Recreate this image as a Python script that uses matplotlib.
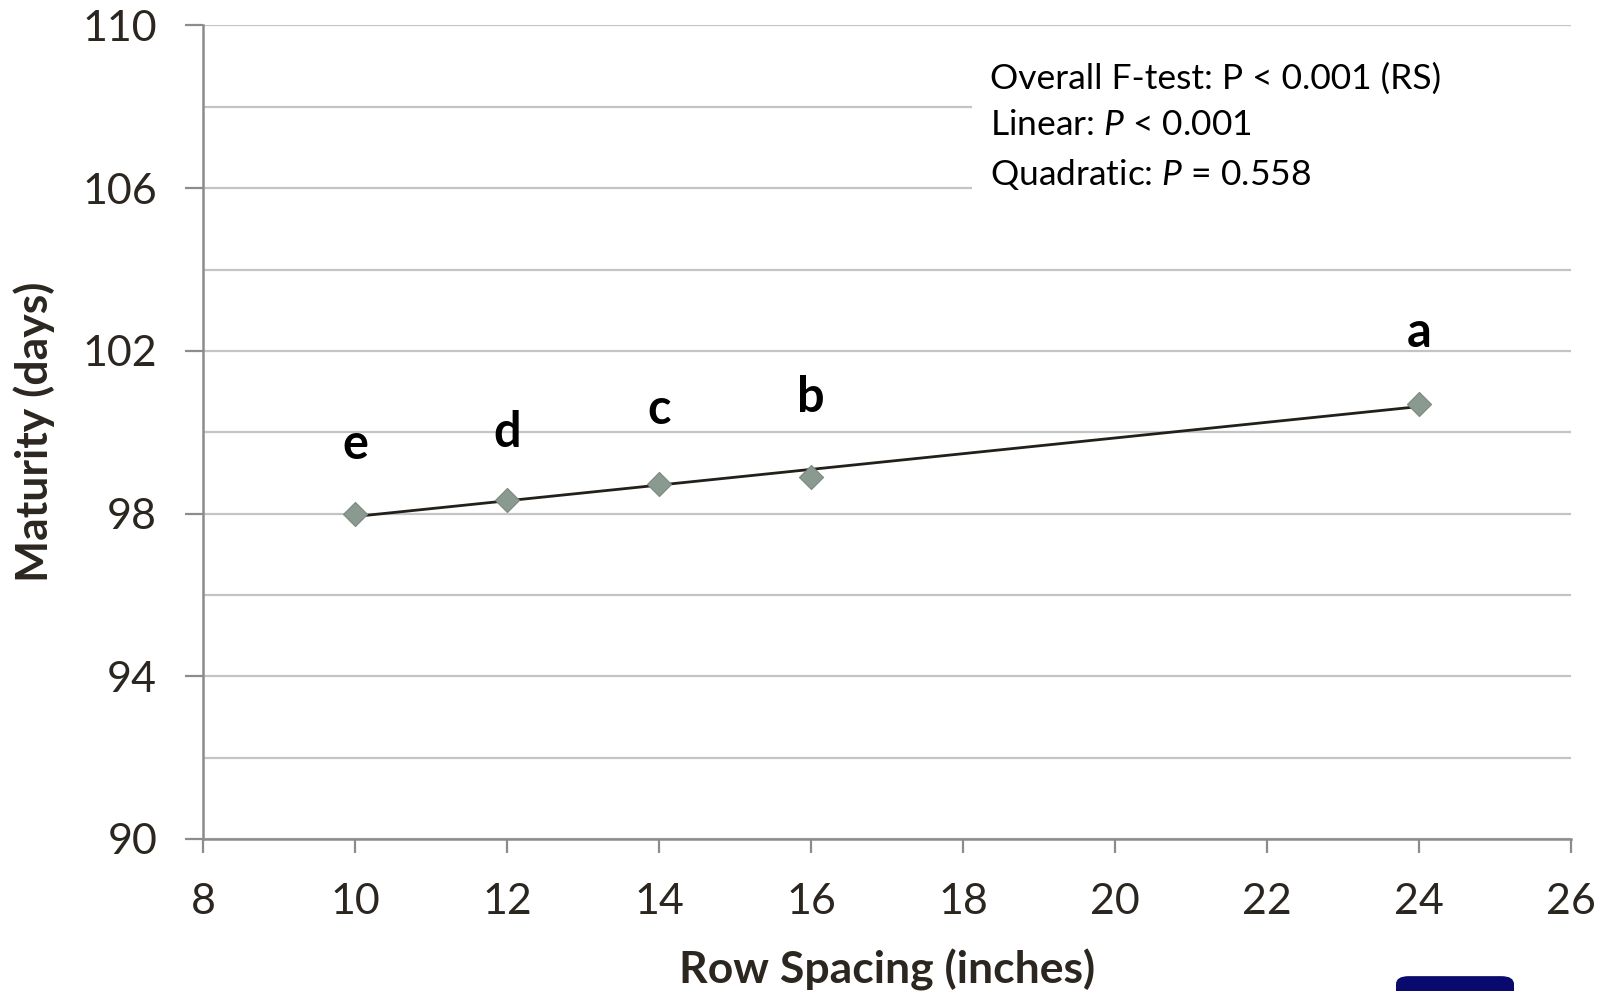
import matplotlib
matplotlib.use("Agg")
import matplotlib.pyplot as plt
import numpy as np
from matplotlib.ticker import MultipleLocator, FixedLocator
from matplotlib.patches import FancyBboxPatch, Rectangle

row_spacing = [10, 12, 14, 16, 24]
maturity = [98.0, 98.33, 98.73, 98.9, 100.7]
letters = ["e", "d", "c", "b", "a"]
letter_y = [99.7, 100.0, 100.55, 100.85, 102.45]
y_ticks = [90, 94, 98, 102, 106, 110]
x_ticks = [8, 10, 12, 14, 16, 18, 20, 22, 24, 26]
stats_lines = ["Overall F-test: P < 0.001 (RS)",
               r"Linear: $\it{P}$ < 0.001",
               r"Quadratic: $\it{P}$ = 0.558"]

plt.rcParams['font.family'] = ['Lato', 'DejaVu Sans']
plt.rcParams['mathtext.fontset'] = 'custom'
plt.rcParams['mathtext.it'] = 'Lato:italic'
plt.rcParams['mathtext.rm'] = 'Lato'

txt = '#2b2620'
fig = plt.figure(figsize=(16.02, 9.91), dpi=100)
ax = fig.add_axes([0.1267, 0.1534, 0.854, 0.8209])

ax.set_xlim(8, 26)
ax.set_ylim(90, 110)
ax.yaxis.set_major_locator(FixedLocator(y_ticks))
ax.yaxis.set_minor_locator(MultipleLocator(2))
ax.xaxis.set_major_locator(FixedLocator(x_ticks))
ax.grid(True, which='both', axis='y', color='#c4c4c4', linewidth=1.6, zorder=0)
for s in ['top', 'right']:
    ax.spines[s].set_visible(False)
for s in ['left', 'bottom']:
    ax.spines[s].set_color('#8c8c8c')
    ax.spines[s].set_linewidth(1.8)
ax.tick_params(axis='y', which='major', length=13, width=1.6, color='#8c8c8c',
               labelsize=31, labelcolor=txt, pad=20)
ax.tick_params(axis='y', which='minor', length=0)
ax.tick_params(axis='x', which='major', length=10, width=1.6, color='#8c8c8c',
               labelsize=31, labelcolor=txt, pad=22)

fit = np.polyfit(row_spacing, maturity, 1)
xs = np.array([min(row_spacing), max(row_spacing)])
ax.plot(xs, np.polyval(fit, xs), color='#231f1a', linewidth=2, zorder=3)
ax.scatter(row_spacing, maturity, marker='D', s=150, color='#8a9a91',
           edgecolor='#7a8a81', linewidth=0.8, zorder=4)

for x, y, l in zip(row_spacing, letter_y, letters):
    ax.text(x, y, l, ha='center', va='center', fontsize=35, fontweight='bold',
            color='black', zorder=5)

# white box behind statistics text (covers gridlines)
ax.add_patch(Rectangle((0.562, 0.77), 0.45, 0.2, transform=ax.transAxes,
                       facecolor='white', edgecolor='none', zorder=2, clip_on=False))
ax.text(18.35, 107.5, "\n".join(stats_lines), ha='left', va='center', fontsize=25.5,
        color='black', linespacing=1.55, zorder=6)

ax.set_xlabel("Row Spacing (inches)", fontsize=32, fontweight='bold', color=txt, labelpad=20)
ax.set_ylabel("Maturity (days)", fontsize=32, fontweight='bold', color=txt, labelpad=20)

# logos at bottom right
fig.patches.append(FancyBboxPatch((1396/1602, -0.02), 118/1602, 0.035,
                                  boxstyle='round,pad=0,rounding_size=0.008',
                                  transform=fig.transFigure, facecolor='#0a0a6e',
                                  edgecolor='none'))

fig.savefig("out.png", dpi=100)
